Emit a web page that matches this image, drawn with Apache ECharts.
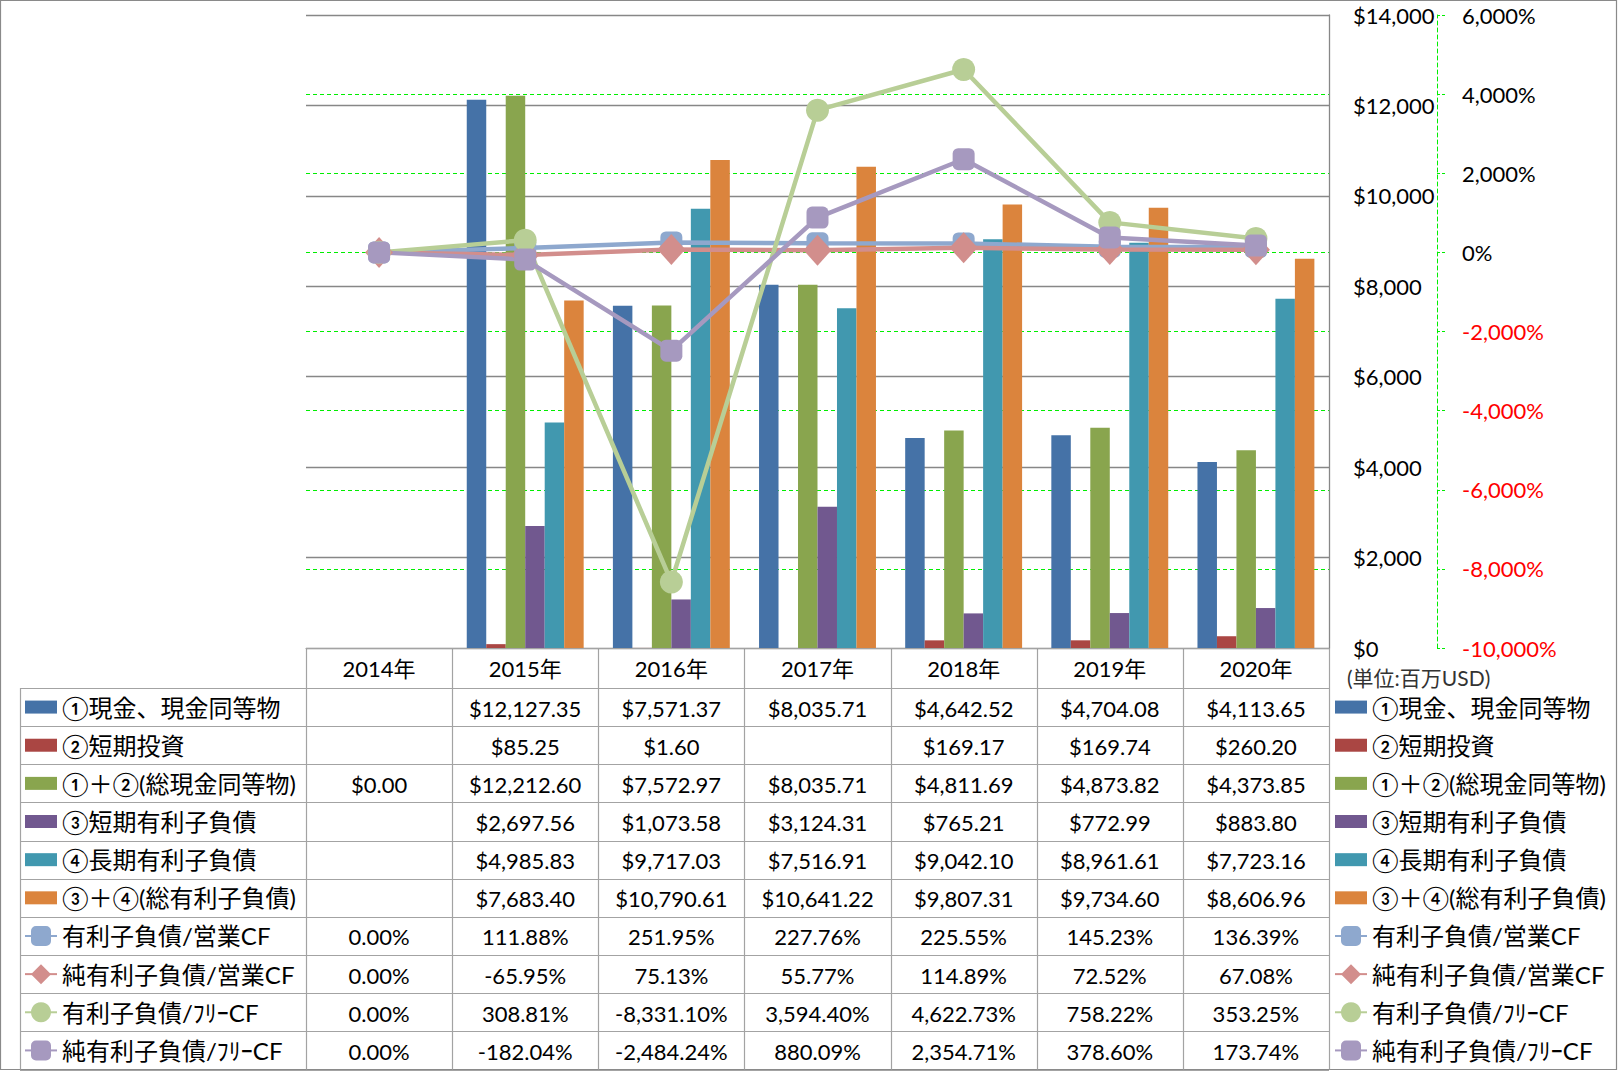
<!DOCTYPE html>
<html><head><meta charset="utf-8">
<script src="https://cdn.jsdelivr.net/npm/echarts@6/dist/echarts.min.js"></script>
<style>html,body{margin:0;padding:0;background:#fff}#c{width:1618px;height:1071px}</style>
</head><body><div id="c"></div>
<script>
// ---- data ----
const years = ['2014年','2015年','2016年','2017年','2018年','2019年','2020年'];
const barNames = ['①現金、現金同等物','②短期投資','①＋②(総現金同等物)','③短期有利子負債','④長期有利子負債','③＋④(総有利子負債)'];
const lineNames = ['有利子負債/営業CF','純有利子負債/営業CF','有利子負債/ﾌﾘｰCF','純有利子負債/ﾌﾘｰCF'];
const cash       = [null, 12127.35, 7571.37, 8035.71, 4642.52, 4704.08, 4113.65];
const shortInv   = [null, 85.25, 1.60, null, 169.17, 169.74, 260.20];
const totalCash  = [0.00, 12212.60, 7572.97, 8035.71, 4811.69, 4873.82, 4373.85];
const shortDebt  = [null, 2697.56, 1073.58, 3124.31, 765.21, 772.99, 883.80];
const longDebt   = [null, 4985.83, 9717.03, 7516.91, 9042.10, 8961.61, 7723.16];
const totalDebt  = [null, 7683.40, 10790.61, 10641.22, 9807.31, 9734.60, 8606.96];
const debtOpCF    = [0, 111.88, 251.95, 227.76, 225.55, 145.23, 136.39];
const netDebtOpCF = [0, -65.95, 75.13, 55.77, 114.89, 72.52, 67.08];
const debtFCF     = [0, 308.81, -8331.10, 3594.40, 4622.73, 758.22, 353.25];
const netDebtFCF  = [0, -182.04, -2484.24, 880.09, 2354.71, 378.60, 173.74];
const usdAxis = {min: 0, max: 14000, interval: 2000};
const pctAxis = {min: -10000, max: 6000, interval: 2000};

// ---- styles / layout ----
const barColors = ['#4572A7','#AA4643','#89A54E','#71588F','#4198AF','#DB843D'];
const lineColors = ['#8EA8CE','#D28E8C','#B8CE96','#A699BF'];
const lineSymbols = ['roundRect','diamond','circle','roundRect'];
const lineSymbolSizes = [22,[28,31],23,22];
const FONT = "Lato, 'Noto Sans CJK JP', sans-serif";
const L = 306, R = 1329, T = 15, B = 648, TL = 20, HB = 688, TB = 1069.5;
const cw = (R - L) / 7, rowH = (TB - HB) / 10;
const GRID = '#878787', TABLE = '#A3A3A3', GREEN = '#00EE00';

const money = v => v == null ? '' : '$' + v.toLocaleString('en-US', {minimumFractionDigits: 2, maximumFractionDigits: 2});
const pct = v => v == null ? '' : v.toLocaleString('en-US', {minimumFractionDigits: 2, maximumFractionDigits: 2}) + '%';

const barData = [cash, shortInv, totalCash, shortDebt, longDebt, totalDebt];
const lineData = [debtOpCF, netDebtOpCF, debtFCF, netDebtFCF];

const series = [];
barNames.forEach((n, i) => series.push({
  name: n, type: 'bar', yAxisIndex: 0, data: barData[i],
  barGap: '0%', barCategoryGap: '20%',
  itemStyle: {color: barColors[i]}
}));
lineNames.forEach((n, i) => series.push({
  name: n, type: 'line', yAxisIndex: 1, data: lineData[i],
  symbol: lineSymbols[i], symbolSize: lineSymbolSizes[i],
  lineStyle: {color: lineColors[i], width: 4.5},
  itemStyle: {color: lineColors[i]}
}));

// ---- table graphics ----
const els = [];
els.push({type: 'rect', silent: true, shape: {x: 0.5, y: 0.5, width: 1616, height: 1069}, style: {fill: 'none', stroke: '#8A8A8A', lineWidth: 1.2}});
for (let i = 0; i <= 10; i++) {
  const y = Math.round(HB + i * rowH) + 0.5;
  els.push({type: 'line', silent: true, shape: {x1: TL, y1: y, x2: R, y2: y}, style: {stroke: TABLE, lineWidth: 1.2}});
}
els.push({type: 'line', silent: true, shape: {x1: TL + 0.5, y1: HB, x2: TL + 0.5, y2: TB}, style: {stroke: TABLE, lineWidth: 1.2}});
for (let j = 0; j <= 7; j++) {
  const x = Math.round(L + j * cw) + 0.5;
  els.push({type: 'line', silent: true, shape: {x1: x, y1: B, x2: x, y2: TB}, style: {stroke: TABLE, lineWidth: 1.2}});
}
const rows = barData.map(a => a.map(money)).concat(lineData.map(a => a.map(pct)));
rows.forEach((r, ri) => r.forEach((t, j) => {
  if (!t) return;
  els.push({type: 'text', silent: true, x: L + (j + 0.5) * cw, y: HB + (ri + 0.5) * rowH + 1,
    style: {text: t, fontSize: 22, fontFamily: FONT, fill: '#000', align: 'center', verticalAlign: 'middle'}});
}));
els.push({type: 'text', silent: true, x: 1347, y: 677,
  style: {text: '(単位:百万USD)', fontSize: 21, fontFamily: FONT, fill: '#333', align: 'left', verticalAlign: 'middle'}});

function legendCfg(left, top, names, isBar) {
  const c = {
    orient: 'vertical', left: left, top: top, padding: 0, itemGap: 0,
    itemWidth: 32, itemHeight: isBar ? 13 : 25, data: names, selectedMode: false,
    textStyle: {fontSize: 24, fontFamily: FONT, color: '#000', lineHeight: rowH}
  };
  if (isBar) c.icon = 'rect';
  return c;
}

const option = {
  animation: false,
  backgroundColor: '#fff',
  grid: {left: L, right: 1618 - R, top: T, bottom: 1071 - B, containLabel: false, outerBoundsMode: 'none'},
  legend: [
    legendCfg(25, HB, barNames, true),
    legendCfg(24, HB + 6 * rowH, lineNames, false),
    legendCfg(1335, HB, barNames, true),
    legendCfg(1334, HB + 6 * rowH, lineNames, false)
  ],
  xAxis: {
    type: 'category', data: years, boundaryGap: true, z: 1,
    axisLine: {show: true, lineStyle: {color: TABLE, width: 1.2}},
    axisTick: {show: false},
    axisLabel: {margin: 9, fontSize: 22, lineHeight: 22, fontFamily: FONT, color: '#000'},
    splitLine: {show: false}
  },
  yAxis: [
    {
      type: 'value', position: 'right', z: 1, min: usdAxis.min, max: usdAxis.max, interval: usdAxis.interval,
      axisLine: {show: true, lineStyle: {color: GRID, width: 1.3}},
      axisTick: {show: false},
      axisLabel: {margin: 24, fontSize: 22, fontFamily: FONT, color: '#000',
        formatter: v => '$' + v.toLocaleString('en-US')},
      splitLine: {show: true, lineStyle: {color: GRID, width: 1.3}}
    },
    {
      type: 'value', position: 'right', z: 0, offset: 108, min: pctAxis.min, max: pctAxis.max, interval: pctAxis.interval,
      axisLine: {show: true, lineStyle: {color: GREEN, width: 1, type: [4, 3]}},
      axisTick: {show: true, length: 8, lineStyle: {color: GREEN, width: 1, type: [3, 2]}},
      axisLabel: {margin: 25, fontSize: 22, fontFamily: FONT,
        color: v => (Number(v) < 0 ? '#FF0000' : '#000'),
        formatter: v => v.toLocaleString('en-US') + '%'},
      splitLine: {show: true, lineStyle: {color: GREEN, width: 1, type: [4, 3]}}
    }
  ],
  series: series,
  graphic: {elements: els}
};
const chart = echarts.init(document.getElementById('c'), null, {renderer: 'svg', width: 1618, height: 1071});
chart.setOption(option);
</script>
</body></html>
